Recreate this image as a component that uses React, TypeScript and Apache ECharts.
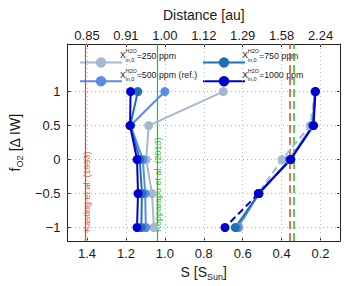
import React, { useEffect, useRef } from 'react';
import * as echarts from 'echarts';

// ---- data ----
const fO2 = [1, 0.5, 0, -0.5, -1];
const inner250 = [0.7, 1.083, 1.096, 1.066, 1.056];
const inner500 = [1.0, 1.176, 1.113, 1.101, 1.098];
const inner750 = [1.139, 1.178, 1.129, 1.118, 1.121];
const inner1000 = [1.176, 1.179, 1.143, 1.138, 1.143];
const outer250 = [0.228, 0.253, 0.398, 0.52, 0.62];
const outer500 = [0.228, 0.24, 0.36, 0.515, 0.625];
const outer750 = [0.228, 0.24, 0.356, 0.517, 0.638];
const outer1000 = [0.226, 0.236, 0.353, 0.519, 0.691];

const sTicks = [1.4, 1.2, 1.0, 0.8, 0.6, 0.4, 0.2];
const distLabels = ['0.85', '0.91', '1.00', '1.12', '1.29', '1.58', '2.24'];
const yTicks = [-1, -0.5, 0, 0.5, 1];

const kastingS = [1.409, 0.356];
const kopparapuS = [1.045, 0.34];

const seriesNames = ['250', '500', '750', '1000'];
const legendLabels = ['=250 ppm', '=500 ppm (ref.)', '=750 ppm', '=1000 ppm'];

// ---- styles ----
const FONT = "'Liberation Sans', Arial, Helvetica, sans-serif";
const AXIS = '#262626';
const TXT = '#1a1a1a';
const C250 = '#a4b8d2';
const C500 = '#5a8ce6';
const C750 = '#1f6fb4';
const C1000 = '#0000d2';
const RED = '#e8401c';
const GREEN = '#22c022';

const pairs = (xs: number[], ys: number[]) => xs.map((x, i) => [x, ys[i]]);

function mkSeries(name: string, xs: number[], ys: number[], color: string, dashed: boolean) {
  return {
    type: 'line',
    name,
    data: pairs(xs, ys),
    xAxisIndex: 0,
    yAxisIndex: 0,
    symbol: 'circle',
    symbolSize: 9,
    z: 5,
    lineStyle: { color, width: 2, type: dashed ? [7, 4] : 'solid' },
    itemStyle: { color },
    emphasis: { disabled: true },
  };
}

export default function App() {
  const ref = useRef<HTMLDivElement>(null);
  useEffect(() => {
    if (!ref.current) return;
    const chart = echarts.init(ref.current, undefined, { renderer: 'svg' });

    const subRich = {
      a: { fontSize: 14, lineHeight: 16, verticalAlign: 'top', color: TXT, fontFamily: FONT },
      s: { fontSize: 9, lineHeight: 9, padding: [7, 0, 0, 0], verticalAlign: 'top', color: TXT, fontFamily: FONT },
    };

    const xCommon = {
      type: 'value',
      min: 0.1,
      max: 1.5,
      inverse: true,
      axisLine: { show: true, onZero: false, lineStyle: { color: AXIS, width: 1 } },
      axisTick: { show: true, inside: true, length: 3, customValues: sTicks, lineStyle: { color: AXIS } },
      splitLine: { show: false },
    };
    const yCommon = {
      type: 'value',
      min: -1.2,
      max: 1.7,
      axisLine: { show: true, onZero: false, lineStyle: { color: AXIS, width: 1 } },
      axisTick: { show: true, inside: true, length: 3, customValues: yTicks, lineStyle: { color: AXIS } },
      splitLine: { show: false },
    };

    const gridLines = [
      ...yTicks.map((v) => ({ yAxis: v })),
      ...sTicks.map((v) => ({ xAxis: v })),
    ];
    const refLines = [
      { xAxis: kastingS[0], lineStyle: { color: RED, type: 'solid', width: 1.2 } },
      { xAxis: kopparapuS[0], lineStyle: { color: GREEN, type: 'solid', width: 1.2 } },
      { xAxis: kastingS[1], lineStyle: { color: RED, type: [8, 4], width: 1.5 } },
      { xAxis: kopparapuS[1], lineStyle: { color: GREEN, type: [8, 4], width: 1.5 } },
    ];

    const legendPos = [
      [120, 55],
      [120, 74.5],
      [242.3, 55],
      [242.3, 74.5],
    ];
    const legendGraphics: any[] = [];
    legendLabels.forEach((lab, i) => {
      const [gx, gy] = legendPos[i];
      legendGraphics.push(
        { type: 'text', x: gx, y: gy, style: { text: 'X', fontSize: 8.5, fontFamily: FONT, fill: TXT, verticalAlign: 'middle' } },
        { type: 'text', x: gx + 5.5, y: gy - 4, style: { text: 'H2O', fontSize: 5.5, fontFamily: FONT, fill: TXT, verticalAlign: 'middle' } },
        { type: 'text', x: gx + 5.5, y: gy + 4.5, style: { text: 'in,0', fontSize: 5.5, fontFamily: FONT, fill: TXT, verticalAlign: 'middle' } },
        { type: 'text', x: gx + 16.7, y: gy + 0.5, style: { text: lab, fontSize: 8.8, fontFamily: FONT, fill: TXT, verticalAlign: 'middle' } }
      );
    });

    const option: any = {
      animation: false,
      textStyle: { fontFamily: FONT },
      grid: { left: 64, right: 10, top: 44, bottom: 44, containLabel: false },
      xAxis: [
        {
          ...xCommon,
          position: 'bottom',
          name: '{a|S [S}{s|Sun}{a|]}',
          nameLocation: 'middle',
          nameGap: 18,
          nameTextStyle: { rich: subRich },
          axisLabel: {
            customValues: sTicks,
            formatter: (v: number) => v.toFixed(1),
            fontSize: 13,
            color: TXT,
            margin: 6,
            fontFamily: FONT,
          },
        },
        {
          ...xCommon,
          position: 'top',
          name: 'Distance [au]',
          nameLocation: 'middle',
          nameGap: 22,
          nameTextStyle: { fontSize: 14, color: TXT, fontFamily: FONT },
          axisLabel: {
            customValues: sTicks,
            formatter: (v: number) => {
              let best = 0;
              sTicks.forEach((t, i) => {
                if (Math.abs(t - v) < Math.abs(sTicks[best] - v)) best = i;
              });
              return distLabels[best];
            },
            fontSize: 13,
            color: TXT,
            margin: 2,
            fontFamily: FONT,
          },
        },
      ],
      yAxis: [
        {
          ...yCommon,
          position: 'left',
          name: '{a|f}{s|O2}{a| [Δ IW]}',
          nameLocation: 'middle',
          nameRotate: 90,
          nameGap: 43,
          nameTextStyle: { rich: subRich },
          axisLabel: {
            customValues: yTicks,
            formatter: (v: number) => String(v).replace('-', '\u2212'),
            fontSize: 13,
            color: TXT,
            margin: 7,
            fontFamily: FONT,
          },
        },
        {
          ...yCommon,
          position: 'right',
          axisLabel: { show: false },
        },
      ],
      legend: [
        {
          data: ['250', '500'],
          orient: 'vertical',
          left: 74,
          top: 51,
          itemWidth: 42,
          itemHeight: 13,
          itemGap: 7,
          formatter: () => '',
          selectedMode: false,
        },
        {
          data: ['750', '1000'],
          orient: 'vertical',
          left: 197,
          top: 51,
          itemWidth: 42,
          itemHeight: 13,
          itemGap: 7,
          formatter: () => '',
          selectedMode: false,
        },
      ],
      graphic: [
        ...legendGraphics,
        {
          type: 'text',
          x: 86.5,
          y: 232,
          rotation: Math.PI / 2,
          style: { text: 'Kasting et al. (1993)', fontSize: 9, fontFamily: FONT, fill: '#e8603f', verticalAlign: 'middle', align: 'left' },
        },
        {
          type: 'text',
          x: 157.5,
          y: 232,
          rotation: Math.PI / 2,
          style: { text: 'Kopparapu et al. (2013)', fontSize: 9, fontFamily: FONT, fill: '#30c030', verticalAlign: 'middle', align: 'left' },
        },
      ],
      series: [
        {
          type: 'line',
          name: 'grid',
          data: [],
          z: 1,
          silent: true,
          markLine: {
            silent: true,
            symbol: ['none', 'none'],
            label: { show: false },
            lineStyle: { color: '#b3b3b3', type: [1, 3], width: 1 },
            data: gridLines,
          },
        },
        {
          type: 'line',
          name: 'refs',
          data: [],
          z: 2,
          silent: true,
          markLine: {
            silent: true,
            symbol: ['none', 'none'],
            label: { show: false },
            data: refLines,
          },
        },
        mkSeries(seriesNames[0], inner250, fO2, C250, false),
        mkSeries(seriesNames[1], inner500, fO2, C500, false),
        mkSeries(seriesNames[2], inner750, fO2, C750, false),
        mkSeries(seriesNames[3], inner1000, fO2, C1000, false),
        mkSeries(seriesNames[0], outer250, fO2, C250, true),
        mkSeries(seriesNames[1], outer500, fO2, C500, false),
        mkSeries(seriesNames[2], outer750, fO2, C750, false),
        mkSeries(seriesNames[3], outer1000.slice(3), fO2.slice(3), C1000, true),
        mkSeries(seriesNames[3], outer1000.slice(0, 4), fO2.slice(0, 4), C1000, false),
      ],
    };
    chart.setOption(option);
    return () => chart.dispose();
  }, []);

  return <div ref={ref} style={{ width: 350, height: 286, position: 'absolute', left: 0, top: 0 }} />;
}
